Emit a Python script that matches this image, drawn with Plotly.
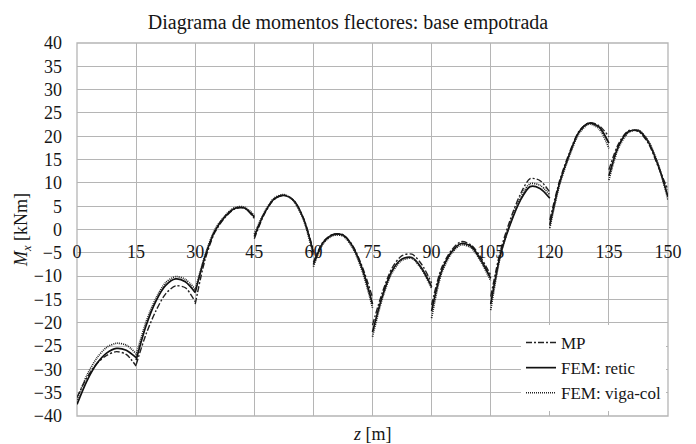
import plotly.graph_objects as go

# ---- data ----
span_starts = [0, 15, 30, 45, 60, 75, 90, 105, 120, 135]
offsets = [0, 2.5, 5, 7.5, 10, 12.5, 15]

mp_vals = [
    [-36.0, -31.8, -28.8, -27.0, -26.2, -26.8, -29.3],
    [-29.0, -22.5, -17.5, -13.8, -12.1, -12.5, -15.5],
    [-16.0, -6.5, -0.6, 2.5, 4.4, 4.6, 2.4],
    [-2.0, 3.2, 6.4, 7.4, 6.3, 2.4, -4.5],
    [-7.0, -2.6, -1.0, -1.1, -3.5, -8.2, -14.6],
    [-20.5, -13.5, -8.2, -5.6, -5.3, -7.5, -11.5],
    [-16.2, -8.3, -4.5, -2.6, -3.3, -6.0, -9.8],
    [-14.4, -4.5, 2.2, 7.5, 10.9, 10.5, 8.0],
    [2.0, 10.5, 16.5, 21.2, 22.9, 22.3, 19.9],
    [12.8, 18.5, 21.2, 21.0, 18.5, 13.5, 8.5],
]
retic_vals = [
    [-37.5, -32.5, -28.8, -26.5, -25.5, -25.9, -27.5],
    [-28.0, -20.7, -15.4, -12.0, -10.6, -11.2, -13.5],
    [-13.5, -5.8, -0.3, 2.7, 4.5, 4.6, 2.7],
    [-1.5, 3.4, 6.5, 7.3, 6.2, 2.3, -5.0],
    [-7.5, -2.8, -1.1, -1.2, -3.7, -8.7, -16.0],
    [-22.0, -14.3, -8.8, -6.3, -6.0, -8.3, -12.3],
    [-17.5, -9.0, -4.9, -3.0, -3.6, -6.5, -10.5],
    [-16.0, -5.3, 1.2, 6.2, 9.2, 8.8, 6.7],
    [1.0, 10.0, 16.2, 21.0, 22.8, 22.0, 18.5],
    [11.5, 18.0, 21.0, 21.2, 18.8, 13.8, 7.0],
]
vigacol_vals = [
    [-36.5, -31.3, -27.6, -25.3, -24.4, -24.8, -26.6],
    [-27.0, -19.9, -14.8, -11.4, -10.1, -10.7, -12.8],
    [-13.0, -5.5, 0.0, 2.9, 4.7, 4.8, 3.0],
    [-1.0, 3.6, 6.7, 7.5, 6.1, 2.0, -5.5],
    [-8.0, -3.0, -1.3, -1.4, -4.0, -9.2, -16.8],
    [-23.0, -14.8, -9.2, -6.6, -6.2, -8.6, -12.6],
    [-19.0, -9.5, -5.2, -3.3, -3.9, -6.9, -11.0],
    [-17.3, -5.6, 1.5, 6.8, 9.8, 9.5, 7.4],
    [0.3, 9.6, 15.8, 20.7, 22.6, 21.6, 17.4],
    [10.6, 17.6, 20.8, 21.3, 19.0, 14.0, 6.3],
]
x_ticks = [0, 15, 30, 45, 60, 75, 90, 105, 120, 135, 150]
y_ticks = list(range(-40, 45, 5))


def flatten(spans):
    xs, ys = [], []
    for s, vals in zip(span_starts, spans):
        xs += [s + o for o in offsets] + [None]
        ys += list(vals) + [None]
    return xs, ys


FONT = "Liberation Serif"
TXT = "#161616"
GRID = "#b5b5b5"

# the page body adds an 8px margin, so the figure is drawn 8px smaller
W, H = 688, 436
ML, MT, MR, MB = 69, 35, 28, 28
PH = H - MT - MB

fig = go.Figure()
series = [
    ("MP", mp_vals, dict(color="#222222", width=1.4, dash="6px,2px,2px,2px")),
    ("FEM: retic", retic_vals, dict(color="#111111", width=1.7)),
    ("FEM: viga-col", vigacol_vals, dict(color="#222222", width=1.7, dash="1px,1px")),
]
for name, vals, line in series:
    xs, ys = flatten(vals)
    line = dict(line, shape="spline", smoothing=0.8)
    fig.add_trace(go.Scatter(x=xs, y=ys, mode="lines", name=name, line=line,
                             connectgaps=False))

fig.update_layout(
    width=W, height=H,
    margin=dict(l=ML, r=MR, t=MT, b=MB, autoexpand=False),
    paper_bgcolor="white", plot_bgcolor="white",
    font=dict(family=FONT, size=18, color=TXT),
    title=dict(text="Diagrama de momentos flectores: base empotrada",
               x=(348 - 8) / W, xref="container", xanchor="center",
               y=1 - 14 / H, yref="container", yanchor="middle",
               font=dict(family=FONT, size=20, color=TXT)),
    showlegend=True,
    legend=dict(x=(521 - 77) / 591, xanchor="left", y=(416 - 411) / PH, yanchor="bottom",
                bgcolor="white", borderwidth=0,
                font=dict(family=FONT, size=17, color=TXT),
                itemwidth=30, tracegroupgap=0),
    xaxis=dict(range=[0, 150], tickvals=x_ticks, ticktext=[str(v) for v in x_ticks],
               showgrid=True, gridcolor=GRID, gridwidth=1.3,
               zeroline=False, showline=False, ticks="",
               anchor="free", position=0.5, ticklabelstandoff=9,
               tickfont=dict(family=FONT, size=18, color=TXT)),
    yaxis=dict(range=[-40, 40], tickvals=y_ticks, domain=[0, 1],
               showgrid=True, gridcolor=GRID, gridwidth=1.3,
               zeroline=False, showline=False, ticks="",
               ticklabelstandoff=14,
               tickfont=dict(family=FONT, size=18, color=TXT),
               title=dict(text="<i>M</i><sub><i>x</i></sub> [kNm]", standoff=1,
                          font=dict(family=FONT, size=18, color=TXT))),
    shapes=[dict(type="rect", xref="paper", yref="paper", x0=0, y0=0, x1=1, y1=1,
                 line=dict(color=GRID, width=1.3), layer="below")],
    annotations=[dict(text="<i>z</i> [m]", xref="paper", yref="paper",
                      x=0.5, y=-18 / PH, xanchor="center", yanchor="middle",
                      showarrow=False, font=dict(family=FONT, size=18, color=TXT))],
)

fig.write_html("out.html")
